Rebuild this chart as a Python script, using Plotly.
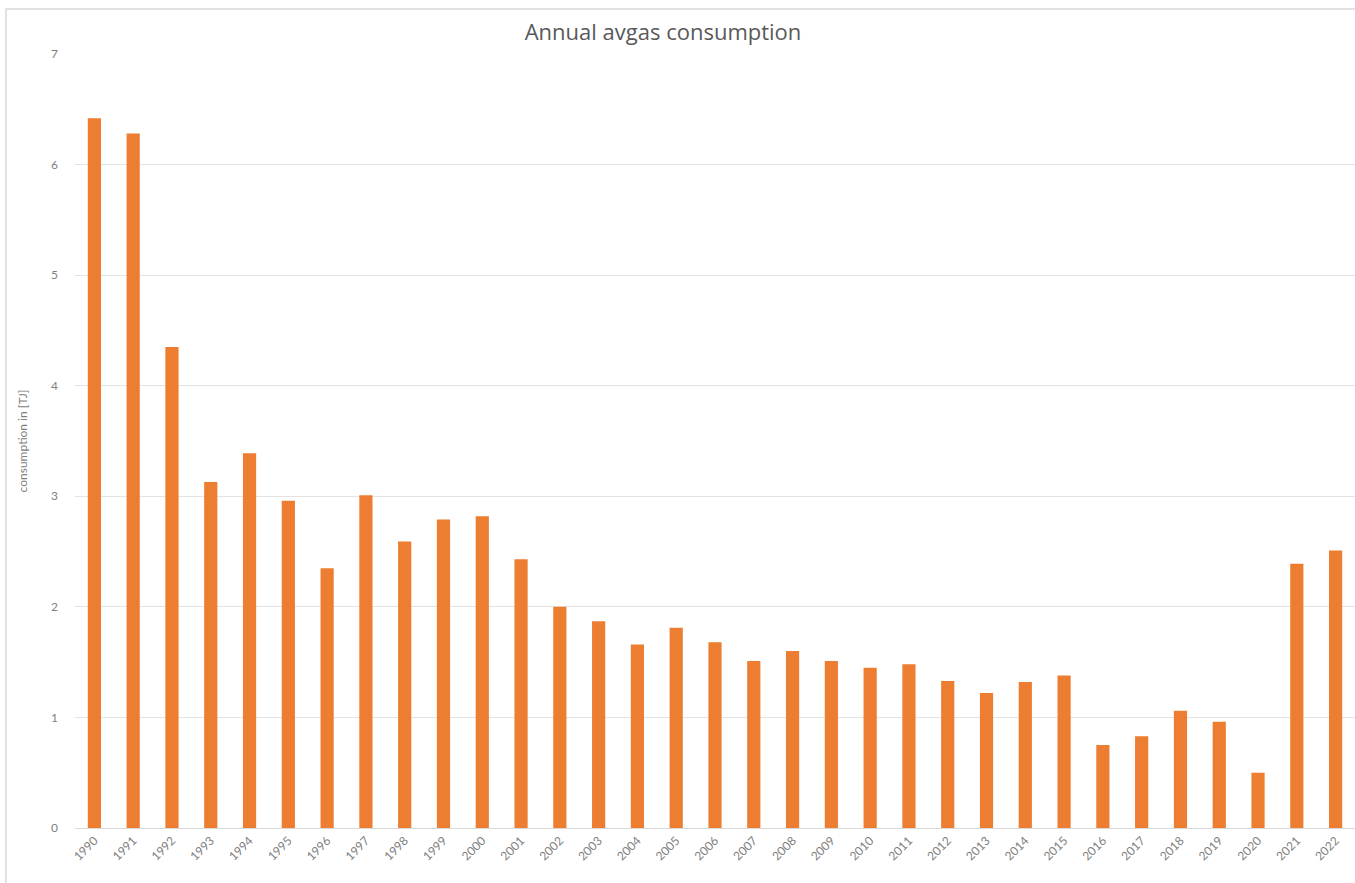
import plotly.graph_objects as go

# Annual avgas consumption, TJ
years = [str(y) for y in range(1990, 2023)]
consumption = [
    6.42, 6.28, 4.35, 3.13, 3.39, 2.96, 2.35, 3.01, 2.59, 2.79,
    2.82, 2.43, 2.00, 1.87, 1.66, 1.81, 1.68, 1.51, 1.60, 1.51,
    1.45, 1.48, 1.33, 1.22, 1.32, 1.38, 0.75, 0.83, 1.06, 0.96,
    0.50, 2.39, 2.51,
]
y_ticks = [0, 1, 2, 3, 4, 5, 6, 7]

W, H = 1355, 883
L, R, T, B = 75, 0, 54, 55
pw, ph = W - L - R, H - T - B

FONT = "Lato"

fig = go.Figure(
    go.Bar(
        x=years,
        y=consumption,
        marker=dict(color="#ED7D31", line=dict(width=0)),
        hoverinfo="x+y",
    )
)

fig.update_layout(
    width=W,
    height=H,
    margin=dict(l=L, r=R, t=T, b=B),
    paper_bgcolor="white",
    plot_bgcolor="white",
    bargap=0.66,
    showlegend=False,
    font=dict(family=FONT, color="#808080"),
    title=dict(
        text="Annual avgas consumption",
        x=663 / W,
        xanchor="center",
        xref="container",
        y=1 - 32 / H,
        yanchor="middle",
        yref="container",
        font=dict(family="Open Sans", size=22, color="#595959"),
    ),
    xaxis=dict(
        type="category",
        tickangle=-45,
        tickfont=dict(size=12, color="#808080"),
        showgrid=False,
        showline=True,
        linecolor="#d9d9d9",
        linewidth=1,
        ticks="",
        fixedrange=True,
    ),
    yaxis=dict(
        range=[0, 7],
        tickvals=y_ticks,
        tickfont=dict(size=12, color="#808080"),
        showgrid=True,
        gridcolor="#e3e3e3",
        gridwidth=1,
        zeroline=True,
        zerolinecolor="#d9d9d9",
        zerolinewidth=1,
        showline=False,
        ticks="",
        ticklabelstandoff=16,
        title=dict(
            text="consumption in [TJ]",
            font=dict(size=12, color="#808080"),
            standoff=20,
        ),
        fixedrange=True,
    ),
)

# light frame around the whole chart
fig.add_shape(
    type="rect",
    xref="paper",
    yref="paper",
    x0=(6 - L) / pw,
    x1=(W + 10 - L) / pw,
    y0=(H - B - (H + 10)) / ph,
    y1=(H - B - 9) / ph,
    line=dict(color="#d9d9d9", width=1.5),
    fillcolor="rgba(0,0,0,0)",
    layer="below",
)

fig.write_html("out.html")
